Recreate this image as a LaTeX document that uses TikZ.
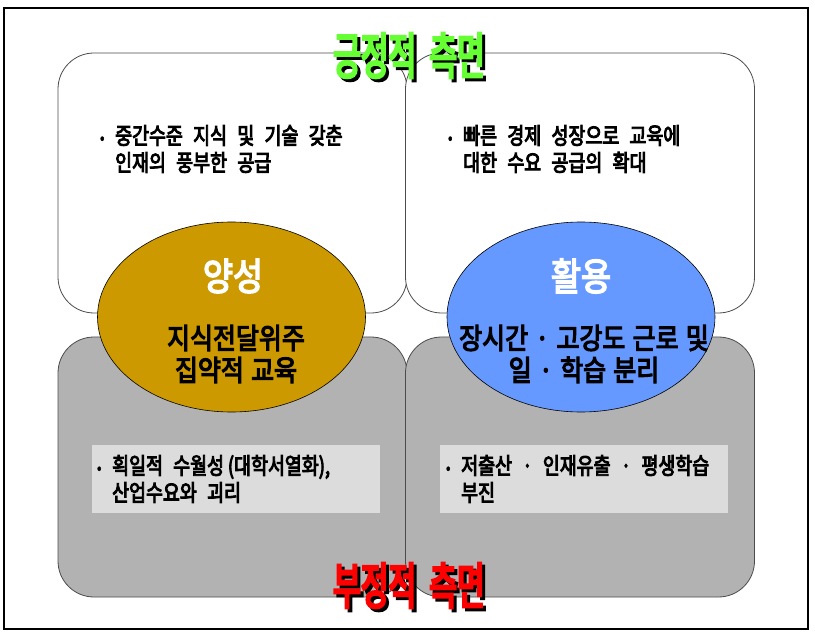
\documentclass[tikz,border=0pt]{standalone}
\usepackage{fontspec}
\setmainfont{Noto Sans CJK KR}[WordSpace=2]
\newfontfamily\krnarrow{Noto Sans CJK KR}[FakeStretch=0.8,FakeBold=4,WordSpace=2.5]
\newfontfamily\krmid{Noto Sans CJK KR}[FakeStretch=0.86,FakeBold=4,WordSpace=1.3]
\newfontfamily\krtitle{Noto Sans CJK KR}[FakeStretch=0.6,FakeBold=5,WordSpace=2]
\usetikzlibrary{shapes.geometric}

\definecolor{posgreen}{HTML}{66FF33}
\definecolor{negred}{HTML}{FF0000}
\definecolor{gold}{HTML}{CC9900}
\definecolor{skyblue}{HTML}{6699FF}
\definecolor{boxgray}{HTML}{B2B2B2}
\definecolor{notegray}{HTML}{DCDCDC}

\newcommand{\dotitem}{\makebox[15pt][l]{\raisebox{1pt}{\fontsize{15}{15}\selectfont •}}}
\newcommand{\shadowed}[2]{\rlap{\hspace{3pt}\raisebox{-3pt}{\color{black}#2}}{\color{#1}#2}}

\begin{document}
\begin{tikzpicture}[
                    x = 1pt, y = -1pt,
                    align = center,
                    node distance = 347.5pt,
                    quad/.style = {draw = black!70, line width = 0.8pt, rounded corners = 36pt,
                                   minimum width = 349pt, minimum height = 260pt, inner sep = 0pt},
                    oval/.style = {draw, ellipse, line width = 0.6pt,
                                   minimum width = 268pt, minimum height = 190pt},
                    note/.style = {fill = notegray, minimum width = 288pt, minimum height = 68pt, inner sep = 0pt},
                    item/.style = {align = left, anchor = west, inner sep = 0pt,
                                   font = \krnarrow\fontsize{23}{27}\selectfont},
                    head/.style = {text = white, font = \krmid\fontsize{38}{38}\selectfont},
                    body/.style = {font = \krmid\fontsize{29}{32}\selectfont},
                    side/.style = {font = \krtitle\fontsize{50}{50}\selectfont}]
                \useasboundingbox (0,0) rectangle (815,639);
                \draw[line width = 1.2pt] (4,8) rectangle (808,629);

                % four quadrants
                \node[quad, fill = white]                   (tl) at (232.5,183) {};
                \node[quad, fill = white, right of = tl]    (tr) {};
                \node[quad, fill = boxgray]                 (bl) at (232.5,467) {};
                \node[quad, fill = boxgray, right of = bl]  (br) {};

                % lower notes
                \node[note] (bln) at (236,479) {};
                \node[note] (brn) at (583.5,479) {};

                % the two ovals
                \node[oval, fill = gold]    (yang) at (231.5,317) {};
                \node[oval, fill = skyblue] (hwal) at (581,317) {};
                \node[head] (yanghd) at (233,276) {양성};
                \node[body] (yangtx) at (236,354) {지식전달위주\\집약적 교육};
                \node[head] (hwalhd) at (581,276) {활용};
                \node[body] (hwaltx) at (584,354) {장시간 · 고강도 근로 및\\일 · 학습 분리};

                % items
                \node[item] (tlt) at (100,149) {\dotitem 중간수준 지식 및 기술 갖춘\\\hspace{15pt}인재의 풍부한 공급};
                \node[item] (trt) at (448,149) {\dotitem 빠른 경제 성장으로 교육에\\\hspace{15pt}대한 수요 공급의 확대};
                \node[item] (blt) at (97,479)  {\dotitem 획일적 수월성\,(대학서열화),\\\hspace{15pt}산업수요와 괴리};
                \node[item] (brt) at (446,479) {\dotitem 저출산 · 인재유출 · 평생학습\\\hspace{15pt}부진};

                % titles
                \node[side] (pos) at (409,57)  {\shadowed{posgreen}{긍정적 측면}};
                \node[side] (neg) at (409,587) {\shadowed{negred}{부정적 측면}};
            \end{tikzpicture}
\end{document}
